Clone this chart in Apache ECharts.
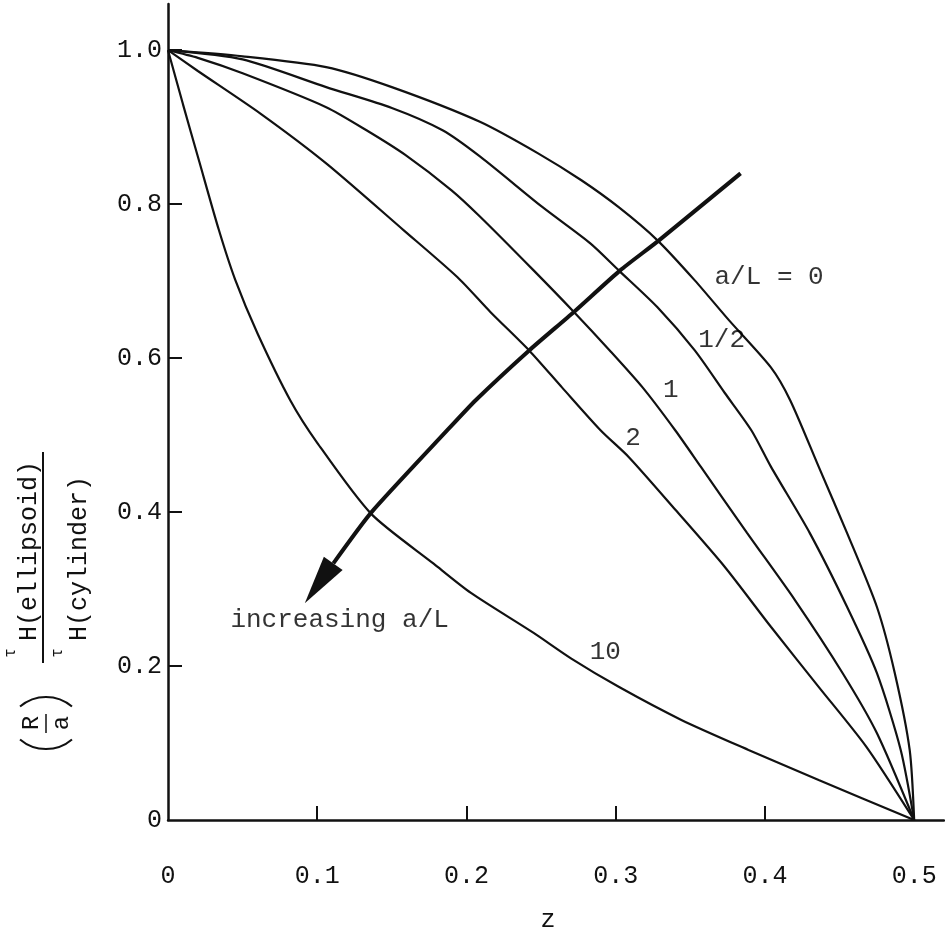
<!DOCTYPE html>
<html><head><meta charset="utf-8">
<script src="https://cdn.jsdelivr.net/npm/echarts@6/dist/echarts.min.js"></script>
<style>html,body{margin:0;padding:0;background:#fff}#c{width:945px;height:940px}</style>
</head><body><div id="c"></div>
<script>
// tick labels
const xTickLabels = [0, 0.1, 0.2, 0.3, 0.4, 0.5];
const yTickLabels = [0, 0.2, 0.4, 0.6, 0.8, 1.0];
const xTickMarks = [0.1, 0.2, 0.3, 0.4];
const yTickMarks = [0.2, 0.4, 0.6, 0.8, 1.0];

// a/L = 0
const z_0 = [0, 0.05, 0.106, 0.15, 0.209, 0.248, 0.277, 0.302, 0.328, 0.353, 0.376, 0.404, 0.417, 0.436, 0.455, 0.475, 0.487, 0.497, 0.5];
const v_0 = [1.0, 0.992, 0.978, 0.952, 0.907, 0.866, 0.831, 0.796, 0.753, 0.701, 0.649, 0.588, 0.545, 0.459, 0.373, 0.277, 0.191, 0.091, 0];
// a/L = 1/2
const z_half = [0, 0.05, 0.106, 0.15, 0.184, 0.209, 0.251, 0.283, 0.302, 0.328, 0.353, 0.373, 0.391, 0.404, 0.43, 0.455, 0.475, 0.491, 0.5];
const v_half = [1.0, 0.988, 0.952, 0.925, 0.896, 0.862, 0.796, 0.749, 0.714, 0.666, 0.61, 0.555, 0.506, 0.459, 0.373, 0.277, 0.191, 0.091, 0];
// a/L = 1
const z_1 = [0, 0.02, 0.05, 0.106, 0.133, 0.159, 0.19, 0.209, 0.245, 0.272, 0.296, 0.318, 0.34, 0.357, 0.388, 0.42, 0.452, 0.475, 0.5];
const v_1 = [1.0, 0.99, 0.97, 0.926, 0.896, 0.864, 0.818, 0.784, 0.714, 0.66, 0.61, 0.562, 0.506, 0.459, 0.373, 0.286, 0.191, 0.113, 0];
// a/L = 2
const z_2 = [0, 0.02, 0.0617, 0.106, 0.158, 0.194, 0.216, 0.242, 0.264, 0.29, 0.309, 0.34, 0.373, 0.404, 0.436, 0.468, 0.5];
const v_2 = [1.0, 0.973, 0.918, 0.853, 0.766, 0.705, 0.66, 0.61, 0.562, 0.506, 0.471, 0.403, 0.329, 0.251, 0.173, 0.095, 0];
// a/L = 10
const z_10 = [0, 0.01, 0.021, 0.034, 0.045, 0.06, 0.082, 0.1, 0.136, 0.178, 0.203, 0.245, 0.27, 0.302, 0.344, 0.389, 0.436, 0.5];
const v_10 = [1.0, 0.93, 0.855, 0.767, 0.702, 0.632, 0.545, 0.49, 0.398, 0.333, 0.295, 0.243, 0.21, 0.173, 0.13, 0.091, 0.052, 0];

// "increasing a/L" arrow shaft and head
const arrowZ = [0.3837, 0.329, 0.303, 0.272, 0.242, 0.206, 0.187, 0.136, 0.1108];
const arrowV = [0.84, 0.753, 0.714, 0.66, 0.61, 0.545, 0.506, 0.399, 0.3334];
const arrowHead = [0.1012, 0.3074];

// curve labels
const labelTexts = ['a/L = 0', '1/2', '1', '2', '10', 'increasing a/L'];
const labelZ = [0.4028, 0.371, 0.337, 0.3117, 0.293, 0.115];
const labelV = [0.705, 0.623, 0.558, 0.496, 0.218, 0.26];

const FONT = '"Liberation Mono", "DejaVu Sans Mono", monospace';
const INK = '#111';
const zip = (a, b) => a.map((x, i) => [x, b[i]]);

function curve(name, zs, vs) {
  return {
    name, type: 'line', data: zip(zs, vs), showSymbol: false, smooth: 0.25,
    lineStyle: { color: INK, width: 2.2 }, z: 2, silent: true
  };
}

const chart = echarts.init(document.getElementById('c'), null, { renderer: 'canvas' });
chart.setOption({
  animation: false,
  backgroundColor: '#fff',
  grid: { left: 168, right: 1, top: 4, bottom: 120, containLabel: false, outerBoundsMode: 'none' },
  xAxis: {
    type: 'value', min: 0, max: 0.52,
    name: 'z', nameLocation: 'middle', nameGap: 88,
    nameTextStyle: { fontFamily: FONT, fontSize: 25, color: INK, padding: [0, 16, 0, 0] },
    axisLine: { show: true, lineStyle: { color: INK, width: 2.5 } },
    axisTick: { show: true, inside: true, length: 14, lineStyle: { color: INK, width: 2 }, customValues: xTickMarks },
    axisLabel: { show: true, customValues: xTickLabels, margin: 44, fontFamily: FONT, fontSize: 25, color: INK,
      formatter: v => (v === 0 ? '0' : v.toFixed(1)) },
    splitLine: { show: false }
  },
  yAxis: {
    type: 'value', min: 0, max: 1.06,
    axisLine: { show: true, lineStyle: { color: INK, width: 2.5 } },
    axisTick: { show: true, inside: true, length: 14, lineStyle: { color: INK, width: 2 }, customValues: yTickMarks },
    axisLabel: { show: true, customValues: yTickLabels, margin: 6, fontFamily: FONT, fontSize: 25, color: INK,
      formatter: v => (v === 0 ? '0' : v.toFixed(1)) },
    splitLine: { show: false }
  },
  series: [
    curve('a/L = 0', z_0, v_0),
    curve('a/L = 1/2', z_half, v_half),
    curve('a/L = 1', z_1, v_1),
    curve('a/L = 2', z_2, v_2),
    curve('a/L = 10', z_10, v_10),
    {
      name: 'arrow', type: 'line', data: zip(arrowZ, arrowV), showSymbol: false, smooth: 0.2,
      lineStyle: { color: INK, width: 4 }, z: 3, silent: true
    },
    {
      name: 'arrowHead', type: 'scatter', data: [arrowHead], symbol: 'triangle',
      symbolSize: [23, 49], symbolRotate: 144.5, itemStyle: { color: INK, opacity: 1 }, z: 4, silent: true
    },
    {
      name: 'labels', type: 'scatter', symbolSize: 0, z: 5, silent: true,
      data: labelTexts.map((t, i) => ({ name: t, value: [labelZ[i], labelV[i]] })),
      label: { show: true, position: 'inside', formatter: '{b}', fontFamily: FONT, fontSize: 26, color: '#000' }
    }
  ],
  graphic: [
    {
      type: 'group', x: 43, y: 557, rotation: Math.PI / 2, silent: true,
      children: [
        { type: 'line', shape: { x1: -106, y1: 0, x2: 105, y2: 0 }, style: { stroke: INK, lineWidth: 2 } },
        { type: 'text', x: -84, y: -1, style: { text: 'H(ellipsoid)', font: '25px ' + FONT, fill: INK, textAlign: 'left', textVerticalAlign: 'bottom' } },
        { type: 'text', x: -84, y: 24, style: { text: 'H(cylinder)', font: '25px ' + FONT, fill: INK, textAlign: 'left', textVerticalAlign: 'top' } },
        { type: 'text', x: -96, y: -32, style: { text: 'τ', font: '16px ' + FONT, fill: INK, textAlign: 'center', textVerticalAlign: 'middle' } },
        { type: 'text', x: -96, y: 15, style: { text: 'τ', font: '16px ' + FONT, fill: INK, textAlign: 'center', textVerticalAlign: 'middle' } },
        { type: 'arc', shape: { cx: -152, cy: 3, r: 40, startAngle: Math.PI * (180 - 40.5) / 180, endAngle: Math.PI * (180 + 40.5) / 180 }, style: { stroke: INK, lineWidth: 2, fill: null } },
        { type: 'arc', shape: { cx: -180, cy: 3, r: 40, startAngle: -Math.PI * 40.5 / 180, endAngle: Math.PI * 40.5 / 180 }, style: { stroke: INK, lineWidth: 2, fill: null } },
        { type: 'text', x: -166, y: -11, style: { text: 'R', font: '24px ' + FONT, fill: INK, textAlign: 'center', textVerticalAlign: 'middle' } },
        { type: 'text', x: -166, y: 19, style: { text: 'a', font: '24px ' + FONT, fill: INK, textAlign: 'center', textVerticalAlign: 'middle' } },
        { type: 'line', shape: { x1: -176, y1: 3, x2: -157, y2: 3 }, style: { stroke: INK, lineWidth: 1.5 } }
      ]
    }
  ]
});
</script>
</body></html>
